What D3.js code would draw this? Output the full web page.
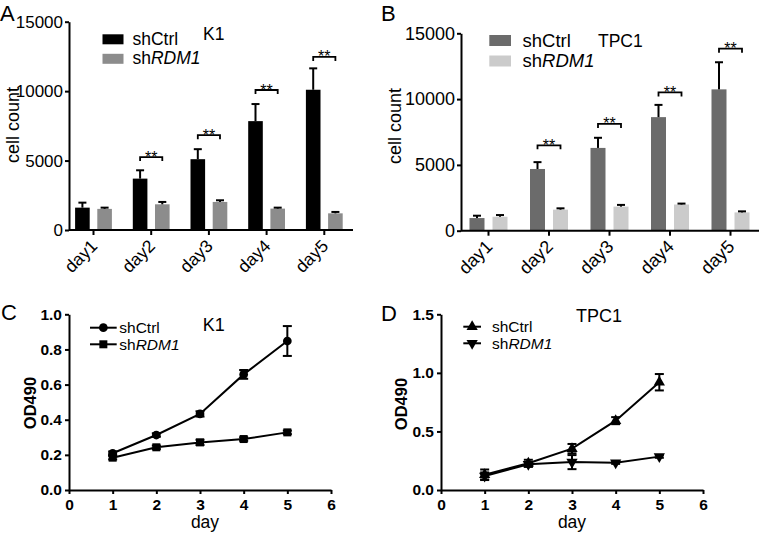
<!DOCTYPE html>
<html><head><meta charset="utf-8">
<script src="https://cdn.jsdelivr.net/npm/d3@7"></script>
<style>
body{margin:0;background:#fff;}
svg{display:block;font-family:"Liberation Sans",Arial,sans-serif;}
</style></head><body>
<svg id="c" width="762" height="536"></svg>
<script>
// ---------- data ----------
const days = ["day1", "day2", "day3", "day4", "day5"];
const seriesNames = ["shCtrl", "shRDM1"];
const countTicks = [0, 5000, 10000, 15000];

const k1CountCtrl = [1610, 3700, 5100, 7840, 10100];
const k1CountCtrlErr = [360, 600, 720, 1230, 1540];
const k1CountRdm1 = [1520, 1850, 2020, 1540, 1200];
const k1CountRdm1Err = [90, 170, 120, 70, 100];
const k1SigLevel = [null, 5250, 6830, 10080, 12460];

const tpc1CountCtrl = [960, 4690, 6290, 8630, 10740];
const tpc1CountCtrlErr = [180, 520, 770, 930, 2060];
const tpc1CountRdm1 = [1060, 1600, 1830, 1990, 1390];
const tpc1CountRdm1Err = [130, 100, 130, 70, 80];
const tpc1SigLevel = [null, 6490, 8110, 10510, 13830];

const odDays = [1, 2, 3, 4, 5];
const dayTicks = [0, 1, 2, 3, 4, 5, 6];
const k1OdTicks = [0, 0.2, 0.4, 0.6, 0.8, 1.0];
const tpc1OdTicks = [0, 0.5, 1.0, 1.5];

const k1OdCtrl = [0.209, 0.313, 0.433, 0.658, 0.848];
const k1OdCtrlErr = [0.01, 0.01, 0.015, 0.025, 0.085];
const k1OdRdm1 = [0.184, 0.243, 0.271, 0.290, 0.328];
const k1OdRdm1Err = [0.01, 0.01, 0.015, 0.01, 0.01];

const tpc1OdCtrl = [0.13, 0.228, 0.353, 0.592, 0.92];
const tpc1OdCtrlErr = [0.045, 0.03, 0.04, 0.03, 0.07];
const tpc1OdRdm1 = [0.12, 0.219, 0.238, 0.233, 0.285];
const tpc1OdRdm1Err = [0.03, 0.02, 0.06, 0.01, 0.01];

// ---------- drawing ----------
const svg = d3.select("#c");
const FONT = '"Liberation Sans", Arial, sans-serif';

function styleAxis(a, fs, bold) {
  a.attr("font-family", FONT);
  a.select(".domain").attr("stroke", "#000").attr("stroke-width", 2);
  a.selectAll(".tick line").attr("stroke", "#000").attr("stroke-width", 2);
  a.selectAll(".tick text").attr("fill", "#000").attr("font-size", fs)
    .attr("font-weight", bold ? "bold" : "normal");
}

function legendLabel(g, x, y, name, fs) {
  const t = g.append("text").attr("x", x).attr("y", y).attr("font-size", fs).attr("fill", "#000");
  if (name === "shRDM1") {
    t.append("tspan").text("sh");
    t.append("tspan").attr("font-style", "italic").text("RDM1");
  } else t.text(name);
}

function barPanel(cfg) {
  const g = svg.append("g");
  const x = d3.scaleBand().domain(days).range(cfg.xRange);
  const x1 = d3.scaleBand().domain(seriesNames).range([-cfg.pairHalf, cfg.pairHalf]).paddingInner(cfg.gap);
  const y = d3.scaleLinear().domain([0, 15000]).range(cfg.yRange);
  const cx = (d, s) => x(d) + x.bandwidth() / 2 + x1(s) + x1.bandwidth() / 2;

  const sets = [[cfg.ctrl, cfg.ctrlErr], [cfg.rdm, cfg.rdmErr]];
  seriesNames.forEach((s, si) => {
    const [vals, errs] = sets[si];
    g.append("g").selectAll("rect").data(days).join("rect")
      .attr("x", d => x(d) + x.bandwidth() / 2 + x1(s))
      .attr("width", x1.bandwidth())
      .attr("y", (d, i) => y(vals[i]))
      .attr("height", (d, i) => y(0) - y(vals[i]))
      .attr("fill", cfg.colors[si]);
    const eg = g.append("g").attr("stroke", "#000").attr("stroke-width", 2);
    days.forEach((d, i) => {
      const c = cx(d, s), top = y(vals[i] + errs[i]);
      eg.append("line").attr("x1", c).attr("x2", c).attr("y1", y(vals[i])).attr("y2", top);
      eg.append("line").attr("x1", c - 4).attr("x2", c + 4).attr("y1", top).attr("y2", top);
    });
  });

  days.forEach((d, i) => {
    const lv = cfg.sig[i];
    if (lv == null) return;
    const yy = y(lv), l = cx(d, seriesNames[0]), r = cx(d, seriesNames[1]);
    g.append("path").attr("d", `M${l},${yy + 4}V${yy}H${r}V${yy + 4}`)
      .attr("fill", "none").attr("stroke", "#000").attr("stroke-width", 1.8);
    g.append("text").attr("x", (l + r) / 2).attr("y", yy + 5.5).attr("text-anchor", "middle")
      .attr("font-size", 16).attr("fill", "#000").text("**");
  });

  const ya = g.append("g").attr("transform", `translate(${cfg.axisX},0)`)
    .call(d3.axisLeft(y).tickValues(countTicks).tickSize(4).tickPadding(2).tickSizeOuter(0).tickFormat(d3.format("d")));
  styleAxis(ya, cfg.tickFont, false);

  const xa = g.append("g").attr("transform", `translate(0,${y(0)})`)
    .call(d3.axisBottom(x).tickSize(5).tickSizeOuter(0));
  xa.select(".domain").remove();
  styleAxis(xa, cfg.dayFont, false);
  xa.append("line").attr("x1", cfg.axisX).attr("x2", cfg.axisEnd).attr("stroke", "#000").attr("stroke-width", 2);
  xa.selectAll(".tick text").attr("y", 0).attr("dy", 0)
    .attr("text-anchor", "end").attr("transform", "translate(5,17) rotate(-45)");

  g.append("text").attr("transform", `translate(${cfg.yLabelX},${cfg.yLabelY}) rotate(-90)`)
    .attr("text-anchor", "middle").attr("font-size", 18).text("cell count");

  seriesNames.forEach((s, si) => {
    const ly = cfg.legY + si * cfg.legGap;
    g.append("rect").attr("x", cfg.legX).attr("y", ly - cfg.legH).attr("width", cfg.legW).attr("height", cfg.legH)
      .attr("fill", cfg.colors[si]);
    legendLabel(g, cfg.legX + cfg.legW + cfg.legTextGap, ly + 0.5, s, cfg.legFont);
  });
  g.append("text").attr("x", cfg.titleX).attr("y", cfg.titleY).attr("font-size", 17.5).text(cfg.title);
  g.append("text").attr("x", cfg.letterX).attr("y", cfg.letterY).attr("font-size", 22).text(cfg.letter);
}

function linePanel(cfg) {
  const g = svg.append("g");
  const x = d3.scaleLinear().domain([0, 6]).range(cfg.xRange);
  const y = d3.scaleLinear().domain([0, cfg.yMax]).range(cfg.yRange);

  const ya = g.append("g").attr("transform", `translate(${x(0)},0)`)
    .call(d3.axisLeft(y).tickValues(cfg.yTicks).tickSize(4).tickPadding(3).tickSizeOuter(0).tickFormat(d3.format(".1f")));
  styleAxis(ya, 15.5, true);
  const xa = g.append("g").attr("transform", `translate(0,${y(0)})`)
    .call(d3.axisBottom(x).tickValues(dayTicks).tickSize(4).tickPadding(5).tickSizeOuter(0).tickFormat(d3.format("d")));
  styleAxis(xa, 15.5, true);

  const line = d3.line().x((d, i) => x(odDays[i])).y(d => y(d));
  const sets = [[cfg.ctrl, cfg.ctrlErr], [cfg.rdm, cfg.rdmErr]];
  sets.forEach(([vals, errs], si) => {
    g.append("path").attr("d", line(vals)).attr("fill", "none").attr("stroke", "#000").attr("stroke-width", 2);
    const eg = g.append("g").attr("stroke", "#000").attr("stroke-width", 2);
    vals.forEach((v, i) => {
      const c = x(odDays[i]), t = y(v + errs[i]), b = y(v - errs[i]);
      eg.append("line").attr("x1", c).attr("x2", c).attr("y1", t).attr("y2", b);
      eg.append("line").attr("x1", c - 4.5).attr("x2", c + 4.5).attr("y1", t).attr("y2", t);
      eg.append("line").attr("x1", c - 4.5).attr("x2", c + 4.5).attr("y1", b).attr("y2", b);
    });
    g.append("g").selectAll("path").data(vals).join("path")
      .attr("transform", (d, i) => `translate(${x(odDays[i])},${y(d)})` + (cfg.symbols[si].rot ? " rotate(180)" : ""))
      .attr("d", d3.symbol().type(cfg.symbols[si].type).size(cfg.symbols[si].size)())
      .attr("fill", "#000");
  });

  g.append("text").attr("x", cfg.dayLabelX).attr("y", 528).attr("text-anchor", "middle").attr("font-size", 17.5).text("day");
  g.append("text").attr("transform", `translate(${cfg.odLabelX},${cfg.odLabelY}) rotate(-90)`)
    .attr("text-anchor", "middle").attr("font-size", 16.5).attr("font-weight", "bold").text("OD490");

  seriesNames.forEach((s, si) => {
    const ly = cfg.legY + si * 16.6;
    g.append("line").attr("x1", cfg.legX0).attr("x2", cfg.legX1).attr("y1", ly).attr("y2", ly)
      .attr("stroke", "#000").attr("stroke-width", 2);
    g.append("path").attr("transform", `translate(${(cfg.legX0 + cfg.legX1) / 2},${ly})` + (cfg.symbols[si].rot ? " rotate(180)" : ""))
      .attr("d", d3.symbol().type(cfg.symbols[si].type).size(cfg.symbols[si].size)()).attr("fill", "#000");
    legendLabel(g, cfg.legTextX, ly + 5.5, s, 15.5);
  });
  g.append("text").attr("x", cfg.titleX).attr("y", cfg.titleY).attr("font-size", 18).text(cfg.title);
  g.append("text").attr("x", cfg.letterX).attr("y", cfg.letterY).attr("font-size", 22).text(cfg.letter);
}

barPanel({
  xRange: [64.65, 353.15], yRange: [230, 21.7], axisX: 69, axisEnd: 353,
  pairHalf: 18.4, gap: 0.342, colors: ["#000000", "#8c8c8c"],
  ctrl: k1CountCtrl, ctrlErr: k1CountCtrlErr, rdm: k1CountRdm1, rdmErr: k1CountRdm1Err, sig: k1SigLevel,
  tickFont: 17, dayFont: 17.5, yLabelX: 19, yLabelY: 125,
  legX: 102.5, legY: 44.3, legGap: 19.5, legW: 21, legH: 10, legTextGap: 9, legFont: 17.5,
  title: "K1", titleX: 203, titleY: 39.5, letter: "A", letterX: 0, letterY: 21
});

barPanel({
  xRange: [458.25, 760.75], yRange: [230.7, 33.3], axisX: 461, axisEnd: 759,
  pairHalf: 19, gap: 0.348, colors: ["#6b6b6b", "#cbcbcb"],
  ctrl: tpc1CountCtrl, ctrlErr: tpc1CountCtrlErr, rdm: tpc1CountRdm1, rdmErr: tpc1CountRdm1Err, sig: tpc1SigLevel,
  tickFont: 18, dayFont: 18, yLabelX: 401, yLabelY: 126,
  legX: 489.3, legY: 46, legGap: 20.5, legW: 21.7, legH: 11, legTextGap: 11.5, legFont: 18.5,
  title: "TPC1", titleX: 598, titleY: 47, letter: "B", letterX: 381, letterY: 21
});

linePanel({
  xRange: [69, 331], yRange: [490, 314.3], yMax: 1.0, yTicks: k1OdTicks,
  ctrl: k1OdCtrl, ctrlErr: k1OdCtrlErr, rdm: k1OdRdm1, rdmErr: k1OdRdm1Err,
  symbols: [{type: d3.symbolCircle, size: 60}, {type: d3.symbolSquare, size: 64}],
  dayLabelX: 205, odLabelX: 36, odLabelY: 403,
  legX0: 90, legX1: 116.7, legY: 327.7, legTextX: 119.3,
  title: "K1", titleX: 202.7, titleY: 331, letter: "C", letterX: 1, letterY: 320
});

linePanel({
  xRange: [441, 703], yRange: [490, 314.3], yMax: 1.5, yTicks: tpc1OdTicks,
  ctrl: tpc1OdCtrl, ctrlErr: tpc1OdCtrlErr, rdm: tpc1OdRdm1, rdmErr: tpc1OdRdm1Err,
  symbols: [{type: d3.symbolTriangle, size: 55}, {type: d3.symbolTriangle, size: 55, rot: true}],
  dayLabelX: 572, odLabelX: 407, odLabelY: 404,
  legX0: 463.3, legX1: 481, legY: 326.7, legTextX: 492,
  title: "TPC1", titleX: 576, titleY: 321.5, letter: "D", letterX: 381, letterY: 321
});
</script>
</body></html>
